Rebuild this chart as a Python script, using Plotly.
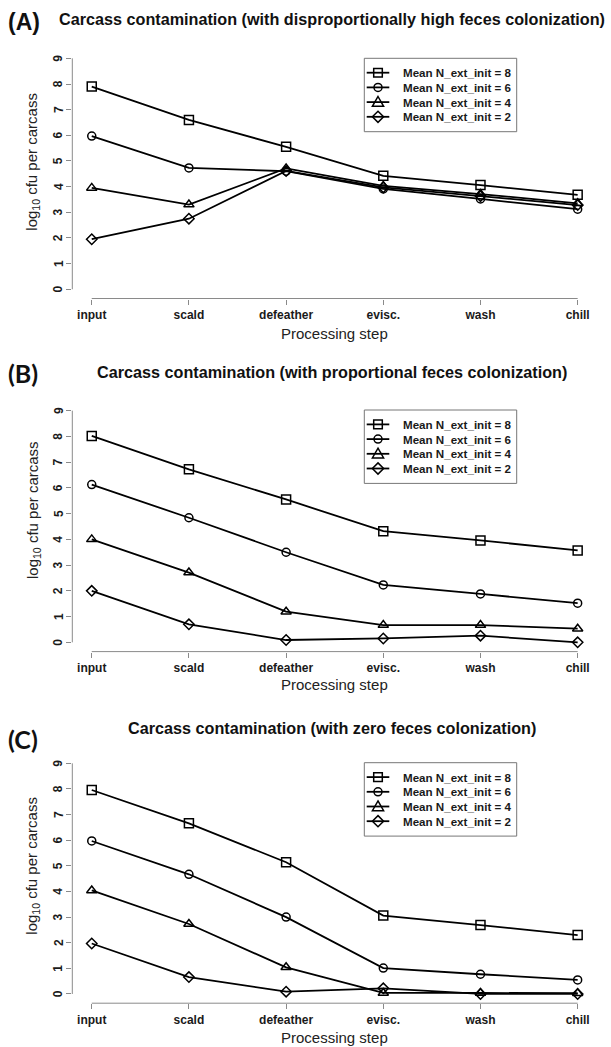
import plotly.graph_objects as go

W, H = 611, 1047

steps = ["input", "scald", "defeather", "evisc.", "wash", "chill"]
series_names = ["Mean N_ext_init = 8", "Mean N_ext_init = 6",
                "Mean N_ext_init = 4", "Mean N_ext_init = 2"]
y_ticks = [0, 1, 2, 3, 4, 5, 6, 7, 8, 9]

titles = [
    "Carcass contamination (with disproportionally high feces colonization)",
    "Carcass contamination (with proportional feces colonization)",
    "Carcass contamination (with zero feces colonization)",
]
panel_labels = ["(A)", "(B)", "(C)"]

# Panel A
a_n8 = [7.90, 6.60, 5.55, 4.42, 4.06, 3.68]
a_n6 = [5.97, 4.73, 4.60, 3.91, 3.52, 3.12]
a_n4 = [3.95, 3.30, 4.71, 4.03, 3.71, 3.35]
a_n2 = [1.95, 2.75, 4.61, 3.97, 3.63, 3.28]

# Panel B
b_n8 = [8.02, 6.72, 5.55, 4.32, 3.96, 3.57]
b_n6 = [6.13, 4.84, 3.50, 2.23, 1.88, 1.52]
b_n4 = [4.00, 2.71, 1.19, 0.67, 0.67, 0.53]
b_n2 = [2.00, 0.70, 0.09, 0.15, 0.26, 0.00]

# Panel C
c_n8 = [7.96, 6.66, 5.14, 3.06, 2.69, 2.30]
c_n6 = [5.97, 4.67, 3.00, 1.01, 0.77, 0.55]
c_n4 = [4.04, 2.73, 1.04, 0.04, 0.04, 0.03]
c_n2 = [1.97, 0.66, 0.09, 0.22, 0.00, 0.00]

panels = [[a_n8, a_n6, a_n4, a_n2],
          [b_n8, b_n6, b_n4, b_n2],
          [c_n8, c_n6, c_n4, c_n2]]

symbols = ["square-open", "circle-open", "triangle-up-open", "diamond-open"]
msizes = [9, 8, 9, 8]

# pixel geometry (top, bottom of plotting region) per panel
px_x = (72.3, 597.1)
px_y = [(49.1, 298.5), (401.4, 651.6), (754.1, 1003.2)]
title_y = [19.5, 371.7, 727.5]
label_y = [22.5, 373.0, 739.0]
xtitle_y = [333.0, 684.0, 1037.0]
ylab_y = [161.7, 510.0, 865.7]
legend_top = [58.3, 410.0, 762.7]
LEG_L, LEG_R, LEG_H, ROW = 364.3, 516.7, 73.4, 14.7

FONT = "Liberation Sans, Arial, sans-serif"
AX = "#8a8a8a"

fig = go.Figure()
layout = dict(width=W, height=H, margin=dict(l=0, r=0, t=0, b=0),
              paper_bgcolor="white", plot_bgcolor="white",
              font=dict(family=FONT, color="#1a1a1a"), showlegend=False,
              annotations=[], shapes=[])

def fx(p):
    return p / W

def fy(p):
    return 1 - p / H

def symbol_path(kind, cx, cy):
    # legend glyph outline in pixel units -> paper coords
    if kind == 0:
        r = 4.3
        pts = [(cx - r, cy - r), (cx + r, cy - r), (cx + r, cy + r), (cx - r, cy + r)]
    elif kind == 2:
        pts = [(cx, cy - 5.6), (cx + 5.6, cy + 4.2), (cx - 5.6, cy + 4.2)]
    else:
        r = 5.6
        pts = [(cx, cy - r), (cx + r, cy), (cx, cy + r), (cx - r, cy)]
    return "M " + " L ".join(f"{fx(x):.5f},{fy(y):.5f}" for x, y in pts) + " Z"

for i in range(3):
    sfx = "" if i == 0 else str(i + 1)
    xa, ya = "x" + sfx, "y" + sfx
    for s in range(4):
        fig.add_trace(go.Scatter(
            x=steps, y=panels[i][s], name=series_names[s],
            mode="lines+markers", xaxis=xa, yaxis=ya,
            line=dict(color="black", width=1.8),
            marker=dict(symbol=symbols[s], size=msizes[s], color="black",
                        line=dict(width=1.5, color="black")),
        ))
    top, bot = px_y[i]
    layout["xaxis" + sfx] = dict(
        domain=[fx(px_x[0]), fx(px_x[1])], anchor=ya, type="category",
        range=[-0.2, len(steps) - 1 + 0.2], showgrid=False, zeroline=False,
        showline=False, ticks="outside", ticklen=5, tickcolor=AX, tickwidth=1,
        tickfont=dict(size=12, family=FONT, color="#1a1a1a", weight="bold"),
    )
    layout["yaxis" + sfx] = dict(
        domain=[fy(bot), fy(top)], anchor=xa,
        range=[-0.36, 9.36], showgrid=False, zeroline=False, showline=False,
        tickvals=y_ticks, ticks="outside", ticklen=5, tickcolor=AX, tickwidth=1,
        showticklabels=False,
    )
    # rotated y tick labels (R style, parallel to axis)
    for t in y_ticks:
        layout["annotations"].append(dict(
            text="<b>" + str(t) + "</b>", xref=xa + " domain", yref=ya,
            x=0, y=t, xanchor="center", yanchor="middle", xshift=-14,
            textangle=-90, showarrow=False,
            font=dict(size=12, family=FONT, color="#1a1a1a")))
    # axis lines spanning first to last tick (R style)
    layout["shapes"].append(dict(type="line", xref=xa, yref=ya + " domain",
                                 x0=0, x1=len(steps) - 1, y0=0, y1=0,
                                 line=dict(color=AX, width=1)))
    layout["shapes"].append(dict(type="line", xref=xa + " domain", yref=ya,
                                 x0=0, x1=0, y0=y_ticks[0], y1=y_ticks[-1],
                                 line=dict(color=AX, width=1)))
    # legend box
    lt = legend_top[i]
    layout["shapes"].append(dict(type="rect", xref="paper", yref="paper",
                                 x0=fx(LEG_L), x1=fx(LEG_R), y0=fy(lt), y1=fy(lt + LEG_H),
                                 line=dict(color="#777", width=1), fillcolor="white",
                                 layer="above"))
    for s in range(4):
        cy = lt + 14.4 + s * ROW
        layout["shapes"].append(dict(type="line", xref="paper", yref="paper",
                                     x0=fx(366.7), x1=fx(389.3), y0=fy(cy), y1=fy(cy),
                                     line=dict(color="black", width=1.8), layer="above"))
        if s == 1:
            layout["shapes"].append(dict(type="circle", xref="paper", yref="paper",
                                         x0=fx(378 - 4), x1=fx(378 + 4),
                                         y0=fy(cy + 4), y1=fy(cy - 4),
                                         line=dict(color="black", width=1.5),
                                         fillcolor="rgba(0,0,0,0)", layer="above"))
        else:
            layout["shapes"].append(dict(type="path", xref="paper", yref="paper",
                                         path=symbol_path(s, 378, cy),
                                         line=dict(color="black", width=1.5),
                                         fillcolor="rgba(0,0,0,0)", layer="above"))
        layout["annotations"].append(dict(
            text="<b>" + series_names[s] + "</b>", xref="paper", yref="paper",
            x=fx(400.5), y=fy(cy), xanchor="left", yanchor="middle",
            showarrow=False, font=dict(size=11.6, family=FONT, color="#1a1a1a")))
    # title
    layout["annotations"].append(dict(
        text="<b>" + titles[i] + "</b>", xref="paper", yref="paper",
        x=fx(332.0), y=fy(title_y[i]), xanchor="center", yanchor="middle",
        showarrow=False, font=dict(size=16.2, family=FONT, color="#111")))
    # panel label
    layout["annotations"].append(dict(
        text="<b>" + panel_labels[i] + "</b>", xref="paper", yref="paper",
        x=fx(6), y=fy(label_y[i]), xanchor="left", yanchor="middle",
        showarrow=False,
        font=dict(size=23 if i == 0 else 25,
                  family=FONT if i == 0 else "Lato, sans-serif", color="#111")))
    # x title
    layout["annotations"].append(dict(
        text="Processing step", xref="paper", yref="paper",
        x=fx(334.5), y=fy(xtitle_y[i]), xanchor="center", yanchor="middle",
        showarrow=False, font=dict(size=15, family=FONT, color="#222")))
    # y title
    layout["annotations"].append(dict(
        text="log<sub>10</sub> cfu per carcass", xref="paper", yref="paper",
        x=fx(33), y=fy(ylab_y[i]), xanchor="center", yanchor="middle",
        textangle=-90, showarrow=False,
        font=dict(size=15, family=FONT, color="#222")))

fig.update_layout(**layout)
fig.write_html("out.html", config={"displayModeBar": False},
               post_script="document.body.style.margin='0';")
